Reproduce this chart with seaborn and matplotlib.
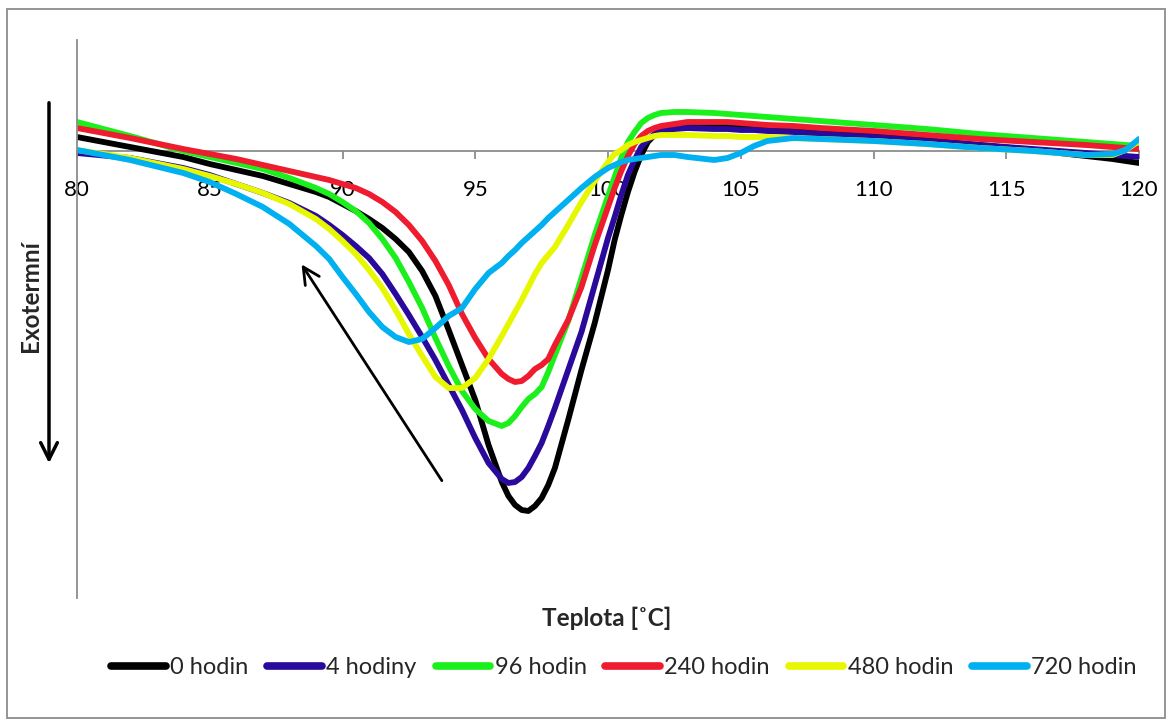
import numpy as np
import pandas as pd
import matplotlib
matplotlib.use("Agg")
import matplotlib.pyplot as plt
import seaborn as sns
from matplotlib.patches import Rectangle, FancyArrowPatch
from matplotlib.lines import Line2D

# Temperature grid [°C]
teplota = [80, 82, 84, 85, 86, 87, 88, 89, 89.5, 90,
           90.5, 91, 91.5, 92, 92.5, 93, 93.5, 94, 94.5, 95,
           95.5, 96, 96.25, 96.5, 96.75, 97, 97.25, 97.5, 97.75, 98,
           98.5, 99, 99.5, 100, 100.25, 100.5, 100.75, 101, 101.25, 101.5,
           101.75, 102, 102.5, 103, 104, 104.5, 105, 105.5, 106, 107,
           108, 110, 112, 114, 116, 118, 119, 119.5, 120]

# Heat flow (relative units, exothermic downward)
h0 = [14, 4, -6, -13, -19, -25, -33, -41, -46, -53,
      -60, -68, -77, -88, -101, -120, -145, -179, -214, -249,
      -294, -331, -345, -354, -359, -360, -355, -347, -334, -317,
      -269, -219, -172, -119, -89, -64, -41, -21, -4, 9,
      16, 21, 24, 26, 25, 25, 24, 23, 22, 21,
      19, 15, 11, 6, 1, -5, -8, -10, -12]
h4 = [-2, -7, -17, -24, -33, -42, -52, -65, -74, -84,
      -95, -107, -123, -143, -164, -186, -209, -234, -259, -287,
      -312, -328, -332, -331, -326, -317, -305, -292, -275, -257,
      -219, -181, -134, -87, -66, -44, -24, -9, 4, 11,
      17, 20, 22, 23, 22, 22, 21, 21, 20, 19,
      17, 14, 10, 6, 2, -2, -4, -5, -6]
h96 = [29, 15, 0, -6, -12, -18, -27, -37, -43, -51,
       -60, -72, -88, -107, -131, -157, -187, -215, -240, -258,
       -270, -275, -272, -265, -256, -248, -243, -236, -221, -204,
       -170, -127, -84, -45, -26, -7, 9, 19, 28, 33,
       36, 38, 39, 39, 38, 37, 36, 35, 34, 32,
       30, 26, 22, 17, 13, 9, 7, 6, 5]
h240 = [23, 13, 2, -3, -8, -14, -20, -26, -29, -33,
        -37, -43, -51, -61, -74, -90, -110, -134, -163, -187,
        -208, -223, -228, -231, -230, -225, -218, -214, -208, -194,
        -169, -136, -94, -56, -37, -20, -5, 7, 15, 20,
        23, 25, 27, 29, 29, 29, 28, 27, 26, 25,
        23, 20, 16, 12, 9, 6, 4, 3, 2]
h480 = [1, -7, -18, -25, -33, -42, -53, -68, -78, -90,
        -103, -119, -137, -159, -183, -205, -226, -237, -237, -227,
        -208, -185, -173, -161, -149, -136, -123, -112, -104, -96,
        -74, -51, -30, -11, -3, 1, 6, 9, 11, 13,
        15, 16, 16, 16, 15, 15, 14, 14, 14, 13,
        12, 10, 7, 3, 0, -4, -4, 1, 10]
h720 = [1, -9, -22, -31, -43, -56, -73, -95, -108, -126,
        -143, -161, -176, -186, -191, -188, -177, -165, -157, -138,
        -122, -112, -105, -99, -92, -86, -80, -74, -67, -61,
        -49, -37, -26, -17, -14, -11, -9, -8, -7, -6,
        -5, -4, -4, -6, -9, -7, -2, 5, 10, 13,
        12, 10, 7, 3, 0, -4, -3, 1, 12]

serie = ["0 hodin", "4 hodiny", "96 hodin", "240 hodin", "480 hodin", "720 hodin"]
barvy = ["#000000", "#2a0a9a", "#1cf01c", "#ee1c2e", "#e6f700", "#00b0f0"]
x_ticks = [80, 85, 90, 95, 100, 105, 110, 115, 120]

data = [h0, h4, h96, h240, h480, h720]
df = pd.concat([pd.DataFrame({"T": teplota, "q": d, "serie": s}) for s, d in zip(serie, data)],
               ignore_index=True)

sns.set_theme(style="white")
plt.rcParams["font.family"] = ["Lato", "DejaVu Sans"]

fig = plt.figure(figsize=(11.73, 7.24), dpi=100)
ax = fig.add_axes([77/1173, 1-598/724, (1139-77)/1173, (598-40)/724])

sns.lineplot(data=df, x="T", y="q", hue="serie", palette=dict(zip(serie, barvy)),
             hue_order=serie, sort=False, estimator=None, linewidth=4.2, ax=ax,
             legend=False, solid_capstyle="round", solid_joinstyle="round")

ax.set_xlim(80, 120)
ax.set_ylim(-447, 111)
ax.set_xticks(x_ticks)
ax.set_xticklabels([str(t) for t in x_ticks])
ax.set_yticks([])
ax.set_xlabel("")
ax.set_ylabel("")

grey = "#8c8c8c"
for s in ["top", "right"]:
    ax.spines[s].set_visible(False)
ax.spines["left"].set_color(grey)
ax.spines["left"].set_linewidth(1.3)
ax.spines["bottom"].set_position(("data", 0))
ax.spines["bottom"].set_color(grey)
ax.spines["bottom"].set_linewidth(1.3)
ax.spines["bottom"].set_zorder(0.5)
ax.tick_params(axis="x", direction="out", length=6, width=1.3, color=grey,
               pad=15, labelsize=16, labelcolor="black", bottom=True)
ax.patch.set_alpha(0)

# Arrow indicating aging trend
ax.annotate("", xy=(88.4, -111), xytext=(93.8, -332),
            arrowprops=dict(arrowstyle="->", lw=2, color="black", mutation_scale=30))

# Y label and downward arrow
fig.text(31/1173, 1-296/724, "Exotermní", rotation=90, ha="center", va="center",
         fontsize=17.5, fontweight="bold")
fig.add_artist(FancyArrowPatch(
    (49/1173, 1-100/724), (49/1173, 1-466/724), transform=fig.transFigure,
    arrowstyle="->", lw=2.5, color="black", mutation_scale=30))

# X label
fig.text(607/1173, 1-618/724, "Teplota [˚C]", ha="center", va="center",
         fontsize=17.5, fontweight="bold")

# Legend
handles = [Line2D([0], [0], color=c, lw=5.5, solid_capstyle="round") for c in barvy]
fig.legend(handles, serie, loc="center", bbox_to_anchor=(624/1173, 1-668/724), ncol=6,
           frameon=False, fontsize=17, handlelength=2.3, handletextpad=0.2,
           columnspacing=0.8)

# Outer border
fig.add_artist(Rectangle((7/1173, 1-718/724), (1165-7)/1173, (718-9)/724,
                         transform=fig.transFigure, fill=False, edgecolor=grey, lw=1.3))

fig.savefig("out.png", dpi=100)
